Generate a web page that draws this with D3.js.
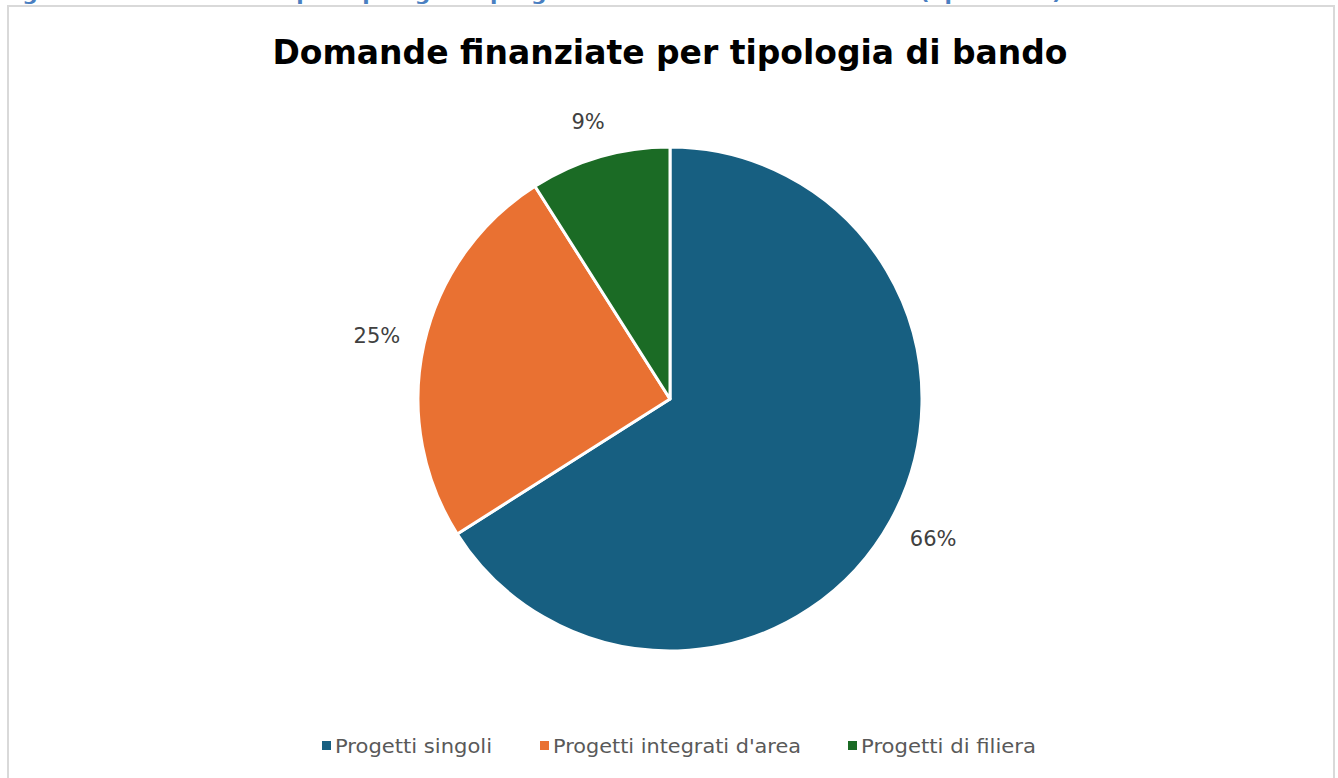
<!DOCTYPE html>
<html><head><meta charset="utf-8">
<script src="https://cdn.jsdelivr.net/npm/d3@7"></script>
<style>html,body{margin:0;padding:0;background:#fff;overflow:hidden}</style>
</head><body>
<svg id="c" width="1338" height="778"></svg>
<script>
const categories = ["Progetti singoli", "Progetti integrati d'area", "Progetti di filiera"];
const values = [66, 25, 9];
const colors = ["#175f81", "#e97132", "#1b6b25"];
const title = "Domande finanziate per tipologia di bando";
const caption = "Figura 4 – Distribuzione per tipologia di progetto delle domande finanziate (op. 16.1.1)";

const svg = d3.select("#c");
// caption, cut at the top edge as in the source screenshot
svg.append("text").attr("x", 0).attr("y", 0)
  .attr("font-family", "DejaVu Sans").attr("font-weight", "bold").attr("font-size", 18)
  .attr("fill", "#4a7fc1")
  .attr("textLength", 1062).attr("lengthAdjust", "spacingAndGlyphs")
  .text(caption);

// frame
svg.append("rect").attr("x", 8).attr("y", 6).attr("width", 1326).attr("height", 800)
  .attr("fill", "#fff").attr("stroke", "#d9d9d9").attr("stroke-width", 2);

// title
svg.append("text").attr("x", 670).attr("y", 64).attr("text-anchor", "middle")
  .attr("font-family", "DejaVu Sans").attr("font-weight", "bold").attr("font-size", 34)
  .attr("fill", "#000")
  .attr("textLength", 795).attr("lengthAdjust", "spacingAndGlyphs")
  .text(title);

const cx = 670, cy = 399, r = 252;
const pie = d3.pie().sort(null).value(d => d)(values);
const arc = d3.arc().innerRadius(0).outerRadius(r);
const g = svg.append("g").attr("transform", `translate(${cx},${cy})`);
g.selectAll("path").data(pie).join("path")
  .attr("d", arc).attr("fill", (d, i) => colors[i])
  .attr("stroke", "#fff").attr("stroke-width", 3).attr("stroke-linejoin", "round");

// outside-end labels: box edge placed at a fixed gap beyond the rim
const R = r + 25;
const lbl = g.selectAll("text").data(pie).join("text")
  .attr("text-anchor", "middle").attr("dy", "0.35em")
  .attr("font-family", "DejaVu Sans").attr("font-size", 21).attr("fill", "#404040")
  .text(d => d.data + "%");
lbl.each(function(d) {
  const a = (d.startAngle + d.endAngle) / 2;
  const w = this.getComputedTextLength(), h = 24;
  const x = R * Math.sin(a) + (w / 2) * Math.sin(a);
  const y = -R * Math.cos(a) - (h / 2) * Math.cos(a);
  d3.select(this).attr("x", x).attr("y", y);
});

// legend
const legX = [322, 540, 848];
const leg = svg.append("g");
categories.forEach((c, i) => {
  leg.append("rect").attr("x", legX[i]).attr("y", 741).attr("width", 9).attr("height", 9).attr("fill", colors[i]);
  leg.append("text").attr("x", legX[i] + 13).attr("y", 746).attr("dy", "0.35em")
    .attr("font-family", "DejaVu Sans").attr("font-size", 19).attr("fill", "#595959")
    .attr("textLength", [157, 248, 175][i]).attr("lengthAdjust", "spacingAndGlyphs")
    .text(c);
});
</script>
</body></html>
